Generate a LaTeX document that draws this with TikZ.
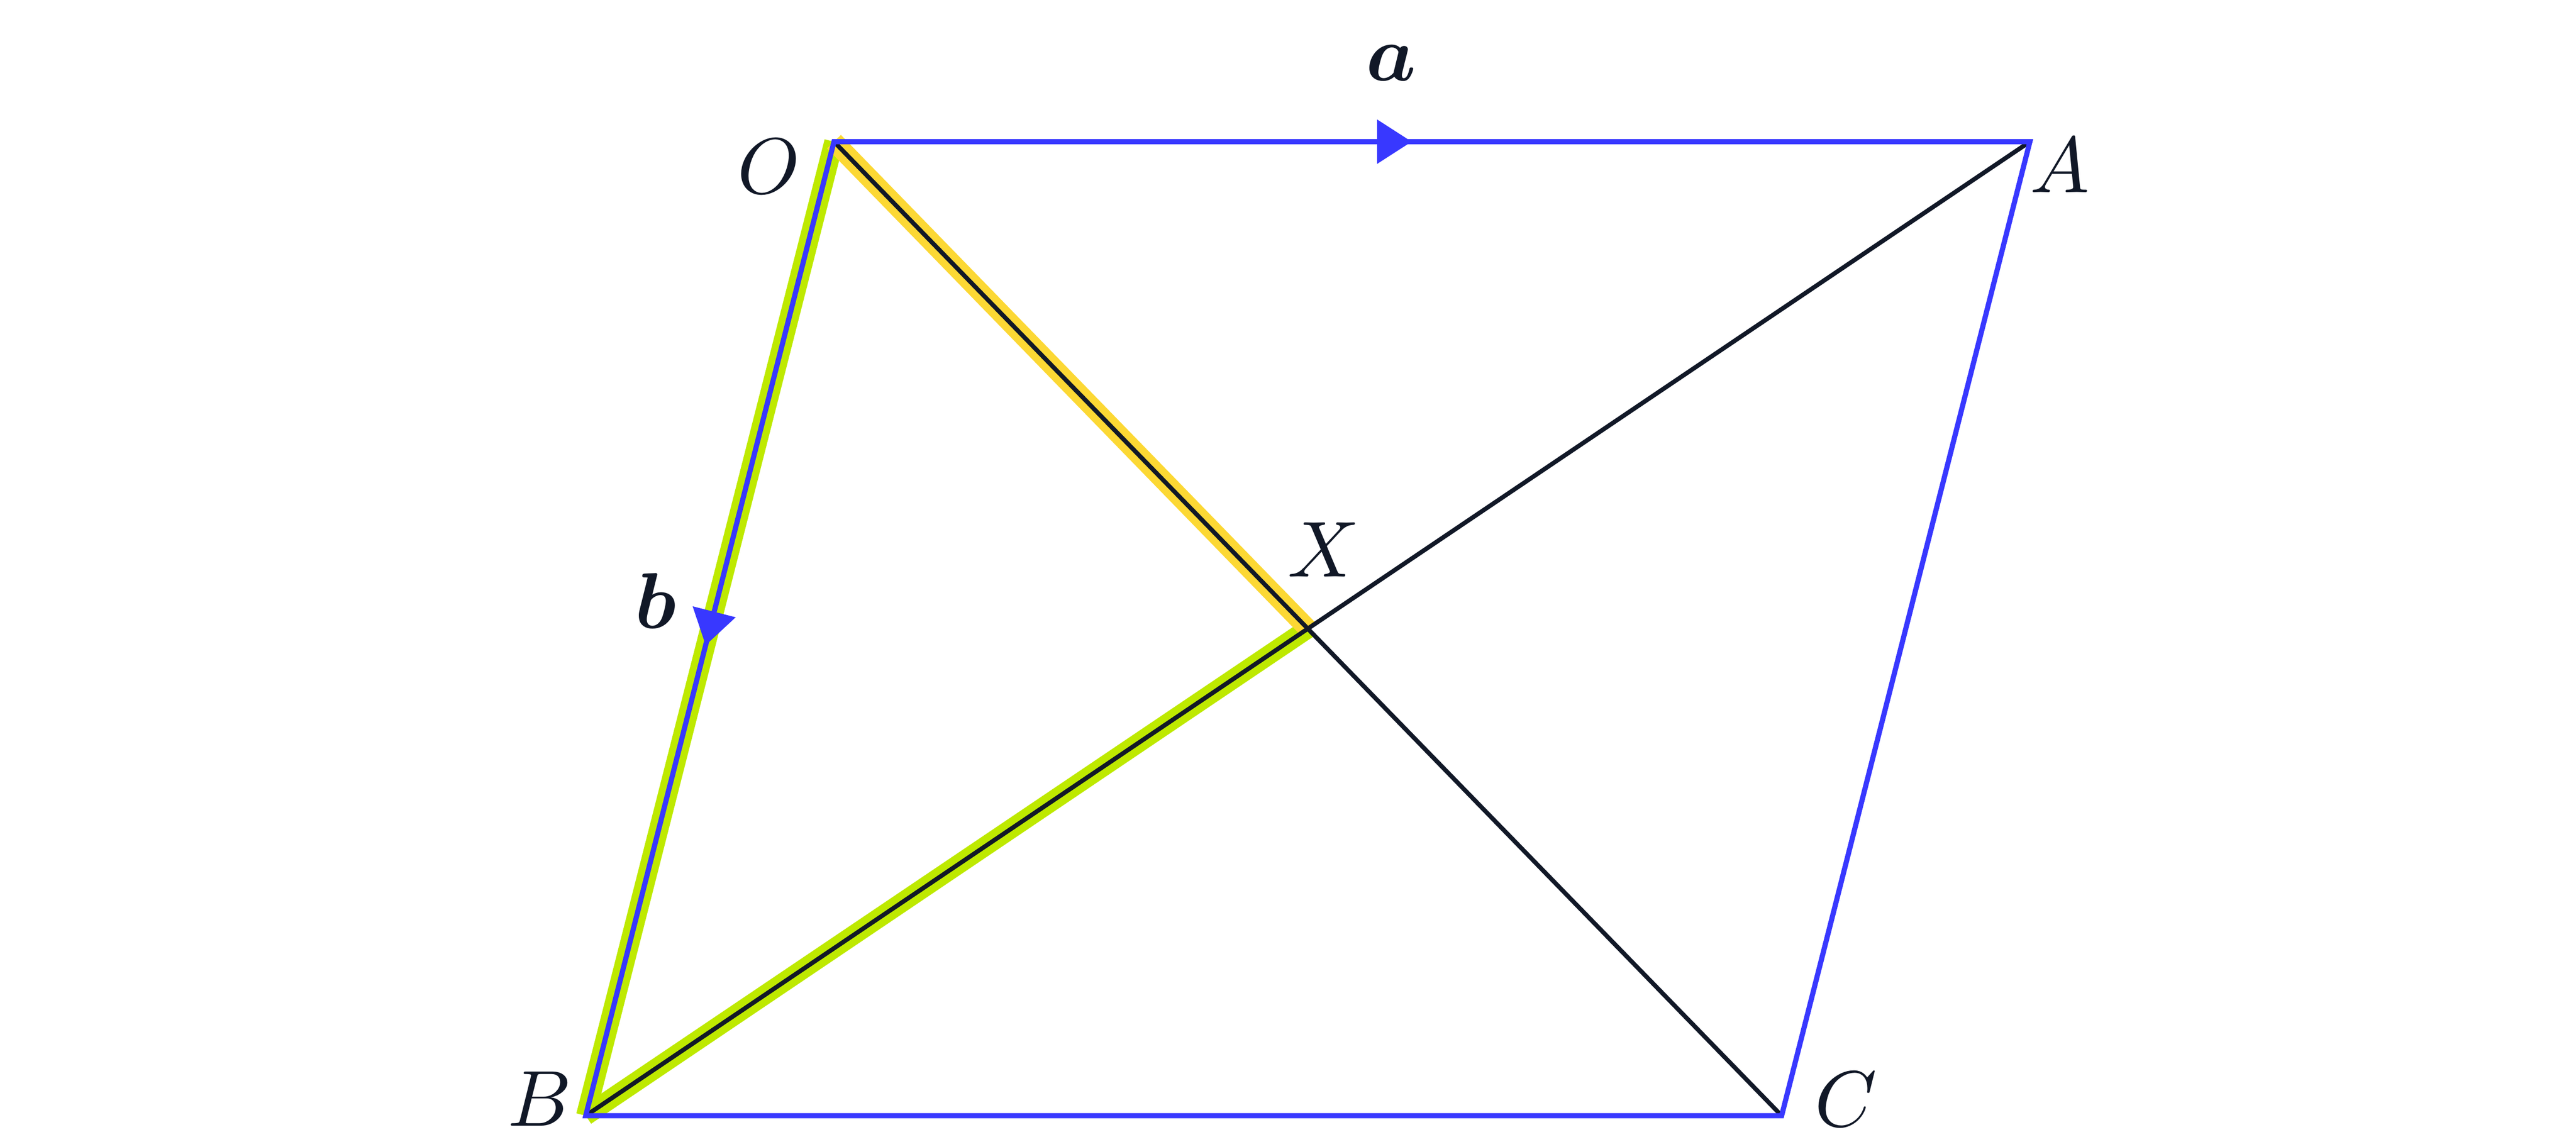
\documentclass[tikz,border=0pt]{standalone}
\usepackage{amsmath}
\usepackage{tikz}
\usetikzlibrary{arrows.meta,decorations.markings}
\definecolor{vblue}{RGB}{56,56,255}
\definecolor{vgreen}{RGB}{190,233,0}
\definecolor{vyellow}{RGB}{252,216,52}
\definecolor{vink}{RGB}{17,24,39}

\begin{document}
\begin{tikzpicture}[lbl/.style = {inner sep=0pt, text=vink}, side/.style = {draw=vblue, line width=0.65pt, line join=miter}, diag/.style = {draw=vink, line width=0.55pt}, band/.style = {line width=2.44pt}, midtip/.style = {decorate, decoration={markings, mark=at position #1 with {\arrow{Triangle[length=1.53mm, width=1.97mm, color=vblue, line width=0pt]}}}}]
	\useasboundingbox (0,0) rectangle (11.4286,5.0429);
	\coordinate (O) at (3.7000,4.4143);
	\coordinate (A) at (9.0057,4.4143);
	\coordinate (B) at (2.5986,0.0929);
	\coordinate (C) at (7.9043,0.0929);
	\coordinate (X) at (5.8021,2.2536);
	\draw[band, vgreen] (O) -- (B);
	\draw[band, vgreen] (B) -- (X);
	\draw[band, vyellow] (O) -- (X);
	\draw[diag] (O) -- (C);
	\draw[diag] (A) -- (B);
	\draw[side] (O) -- (A) -- (C) -- (B) -- cycle;
	\path[midtip=0.483] (O) -- (A);
	\path[midtip=0.517] (O) -- (B);
	\node[lbl] (labO) at (3.4114,4.3043) {$O$};
	\node[lbl] (labA) at (9.1386,4.3086) {$A$};
	\node[lbl] (labB) at (2.3957,0.1671) {$B$};
	\node[lbl] (labC) at (8.1886,0.1657) {$C$};
	\node[lbl] (labX) at (5.8729,2.6043) {$X$};
	\node[lbl] (laba) at (6.1714,4.7629) {$\boldsymbol{a}$};
	\node[lbl] (labb) at (2.9086,2.3786) {$\boldsymbol{b}$};
\end{tikzpicture}
\end{document}
